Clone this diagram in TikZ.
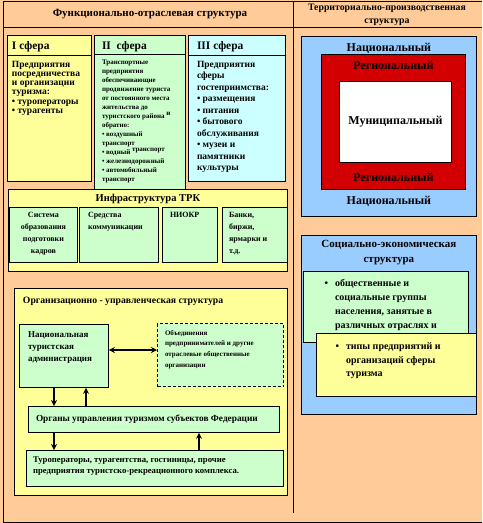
\documentclass[tikz,border=0pt]{standalone}
\usepackage{fontspec}
\setmainfont{Liberation Serif}
\usepackage{tikz}
\usetikzlibrary{arrows.meta, positioning}
\definecolor{peach}{RGB}{255, 204, 153}
\definecolor{paleyellow}{RGB}{255, 255, 153}
\definecolor{palegreen}{RGB}{204, 255, 204}
\definecolor{palecyan}{RGB}{204, 255, 255}
\definecolor{skyblue}{RGB}{153, 204, 255}
\definecolor{deepred}{RGB}{210, 0, 0}

\begin{document}
\begin{tikzpicture}[x=1pt, y=-1pt,
    box/.style={draw, rectangle, line width=0.8pt, inner sep=0pt, anchor=north west},
    txt/.style={inner sep=0pt, outer sep=0pt, align=left, font=\bfseries\fontsize{9.5}{9.2}\selectfont},
    ttl/.style={inner sep=0pt, outer sep=0pt, font=\bfseries\fontsize{11}{13}\selectfont},
    sph/.style={txt, font=\bfseries\fontsize{11.5}{12}\selectfont},
    lvl/.style={inner sep=0pt, outer sep=0pt, font=\bfseries\fontsize{12}{14}\selectfont},
    link/.style={line width=1.6pt},
    >={Stealth[length=6pt, width=6pt]}]
  \fill[peach] (0,0) rectangle (482,523);
  \draw[line width=0.8pt] (482,1) -- (3,1) -- (3,522) -- (482,522);
  \draw[line width=0.8pt] (3,27) -- (482,27);
  \draw[line width=0.8pt] (293,1) -- (293,513);
  \node[ttl] (hfun) at (150,14) {Функционально-отраслевая структура};
  \node[ttl, align=center, font=\bfseries\fontsize{9.8}{13}\selectfont] (hter) at (387,15) {Территориально-производственная\\структура};

  \node[box, fill=paleyellow, minimum width=84, minimum height=146] (s1) at (7,35) {};
  \node[box, fill=palegreen, minimum width=91, minimum height=154] (s2) at (94,35) {};
  \node[box, fill=palecyan, minimum width=97, minimum height=146] (s3) at (188,35) {};
  \draw[line width=0.8pt] ([yshift=-20pt]s1.north west) -- ([yshift=-20pt]s1.north east);
  \draw[line width=0.8pt] ([yshift=-19pt]s2.north west) -- ([yshift=-19pt]s2.north east);
  \draw[line width=0.8pt] ([yshift=-20pt]s3.north west) -- ([yshift=-20pt]s3.north east);
  \node[sph, below right=7pt and 5pt of s1.north west] (s1t) {I сфера};
  \node[sph, below right=7pt and 8pt of s2.north west] (s2t) {II\ \ сфера};
  \node[sph, below right=7pt and 9pt of s3.north west] (s3t) {III сфера};
  \node[txt, below right=26pt and 5pt of s1.north west] (s1x) {Предприятия\\посредничества\\и организации\\туризма:\\\textbullet\ туроператоры\\\textbullet\ турагенты};
  \node[txt, font=\bfseries\fontsize{7}{9}\selectfont, below right=25pt and 8pt of s2.north west] (s2x) {Транспортные\\предприятия\\обеспечивающие\\продвижение туриста\\от постоянного места\\жительства до\\туристского района \raisebox{3pt}{и}\\обратно:\\\textbullet\ воздушный\\транспорт\\\textbullet\ водный \raisebox{3pt}{транспорт}\\\textbullet\ железнодорожный\\\textbullet\ автомобильный\\транспорт};
  \node[txt, font=\bfseries\fontsize{9.5}{11.5}\selectfont, below right=26pt and 9pt of s3.north west] (s3x) {Предприятия\\сферы\\гостеприимства:\\\textbullet\ размещения\\\textbullet\ питания\\\textbullet\ бытового\\обслуживания\\\textbullet\ музеи и\\памятники\\культуры};

  \node[box, fill=skyblue, minimum width=175, minimum height=180] (tnat) at (301,36) {};
  \node[box, fill=deepred, minimum width=144, minimum height=135] (treg) at (321,54) {};
  \node[box, fill=white, minimum width=112, minimum height=81] (tmun) at (339,81) {};
  \node[lvl, below=7pt of tnat.north] (nat1) {Национальный};
  \node[lvl, below=7pt of treg.north] (reg1) {Региональный};
  \node[lvl] (mun) at (tmun.center) {Муниципальный};
  \node[lvl, above=8pt of treg.south] (reg2) {Региональный};
  \node[lvl, above=10pt of tnat.south] (nat2) {Национальный};

  \node[box, fill=paleyellow, minimum width=279, minimum height=82] (infra) at (8,189) {};
  \node[ttl, font=\bfseries\fontsize{10.5}{13}\selectfont, below=5pt of infra.north] (infrat) {Инфраструктура ТРК};
  \node[box, fill=palegreen, minimum width=68, minimum height=55] (edu) at (9,207) {};
  \node[box, fill=palegreen, minimum width=79, minimum height=55] (comm) at (79,207) {};
  \node[box, fill=palegreen, minimum width=55, minimum height=55] (rnd) at (162,207) {};
  \node[box, fill=palegreen, minimum width=65, minimum height=55] (bank) at (222,207) {};
  \node[txt, align=center, font=\bfseries\fontsize{8}{12.2}\selectfont, below=5pt of edu.north] (edut) {Система\\образования\\подготовки\\кадров};
  \node[txt, font=\bfseries\fontsize{8}{12.2}\selectfont, below right=5pt and 9pt of comm.north west] (commt) {Средства\\коммуникации};
  \node[txt, font=\bfseries\fontsize{8}{12.2}\selectfont, below right=5pt and 8pt of rnd.north west] (rndt) {НИОКР};
  \node[txt, font=\bfseries\fontsize{8}{12.2}\selectfont, below right=5pt and 7pt of bank.north west] (bankt) {Банки,\\биржи,\\ярмарки и\\т.д.};

  \node[box, fill=skyblue, minimum width=175, minimum height=179] (soc) at (301,235) {};
  \node[ttl, align=center, font=\bfseries\fontsize{11}{15.5}\selectfont, below=5pt of soc.north] (soct) {Социально-экономическая\\структура};
  \node[box, fill=palegreen, minimum width=165, minimum height=71] (grp) at (303,271) {};
  \node[txt, font=\bfseries\fontsize{10}{14}\selectfont, below right=8pt and 32pt of grp.north west] (grpt) {\llap{\textbullet\hspace{7pt}}общественные и\\социальные группы\\населения, занятые в\\различных отраслях и};
  \node[box, fill=paleyellow, minimum width=160, minimum height=63] (typ) at (316,333) {};
  \node[txt, font=\bfseries\fontsize{10}{13.5}\selectfont, below right=10pt and 30pt of typ.north west] (typt) {\llap{\textbullet\hspace{7pt}}типы предприятий и\\организаций сферы\\туризма};

  \node[box, fill=paleyellow, minimum width=273, minimum height=207] (org) at (14,288) {};
  \node[txt, font=\bfseries\fontsize{9.7}{11}\selectfont, below right=9pt and 9pt of org.north west] (orgt) {Организационно - управленческая структура};
  \node[box, fill=palegreen, minimum width=89, minimum height=63] (nat) at (19,324) {};
  \node[box, fill=palegreen, line width=1.3pt, dash pattern=on 3pt off 2pt, minimum width=126, minimum height=63] (obj) at (157,323) {};
  \node[box, fill=palegreen, minimum width=251, minimum height=26] (orgs) at (28,406) {};
  \node[box, fill=palegreen, minimum width=257, minimum height=36] (tur) at (26,450) {};
  \node[txt, font=\bfseries\fontsize{9}{12}\selectfont, below right=8pt and 9pt of nat.north west] (natt) {Национальная\\туристская\\администрация};
  \node[txt, font=\bfseries\fontsize{7}{10.7}\selectfont, below right=7pt and 8pt of obj.north west] (objt) {Объединения\\предпринимателей и другие\\отраслевые общественные\\организации};
  \node[txt, font=\bfseries\fontsize{9.3}{11}\selectfont, anchor=west, right=8pt of orgs.west] (orgst) {Органы управления туризмом субъектов Федерации};
  \node[txt, font=\bfseries\fontsize{8.7}{11}\selectfont, below right=7pt and 7pt of tur.north west] (turt) {Туроператоры, турагентства, гостиницы, прочие\\предприятия туристско-рекреационного комплекса.};

  \draw[link, <->] (nat.east |- 0,350) -- (obj.west |- 0,350);
  \draw[link, ->] (nat.south -| 54,0) -- (orgs.north -| 54,0);
  \draw[link, ->] (orgs.north -| 86,0) -- (nat.south -| 86,0);
  \draw[link, ->] (orgs.south -| 54,0) -- (tur.north -| 54,0);
  \draw[link, ->] (tur.north -| 199,0) -- (orgs.south -| 199,0);
\end{tikzpicture}
\end{document}
